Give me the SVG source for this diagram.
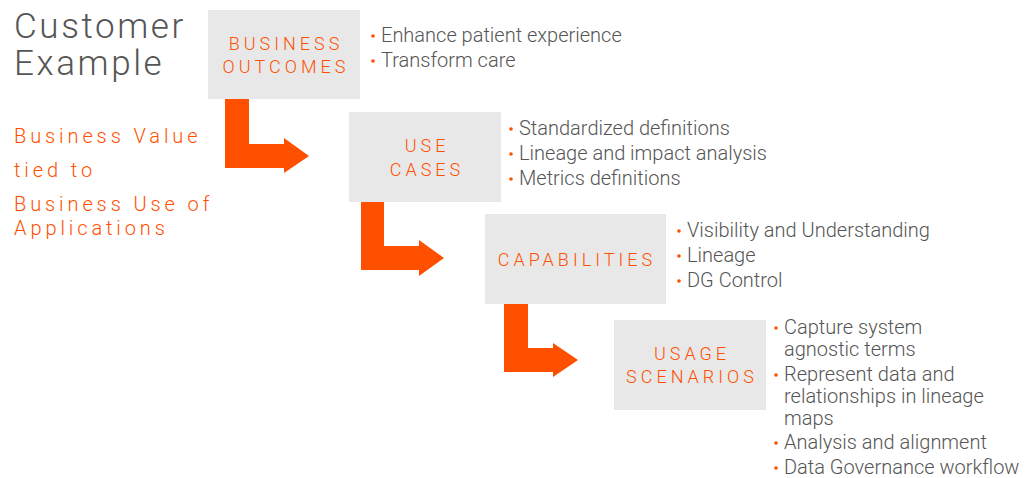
<svg xmlns="http://www.w3.org/2000/svg" width="1036" height="478" viewBox="0 0 1036 478">
<style>
text{font-family:Roboto,"Liberation Sans",sans-serif;font-weight:300}
.title{fill:#555;font-size:35px;letter-spacing:2.6px}
.side{fill:#FF5000;font-size:20px;letter-spacing:3.9px}
.box{fill:#E8E8E8}
.lbl{fill:#FF5000;font-size:18px;letter-spacing:4px;text-anchor:middle}
.b{fill:#555;font-size:20px}
.dot{fill:#FF5000}
.arr{fill:#FF5000}
</style>
<text class="title" x="14" y="38">Customer</text>
<text class="title" x="14" y="75">Example</text>
<g id="side-text">
<text class="side" x="14" y="143">Business Value</text>
<text class="side" x="14" y="177">tied to</text>
<text class="side" x="14" y="211">Business Use of</text>
<text class="side" x="14" y="235">Applications</text>
</g>
<g id="connectors">
<path class="arr" d="M225,99 H249 V144 H284 V138 L309,156 L284,173 V168 H225 Z"/>
<path class="arr" d="M361,202 H384 V246 H419 V240 L444,258 L419,276 V270 H361 Z"/>
<path class="arr" d="M504,304 H528 V348 H553 V343 L578,360 L553,377 V372 H504 Z"/>
</g>
<g id="business-outcomes">
<rect class="box" x="208" y="10" width="152" height="89"/>
<text class="lbl" x="286" y="50">BUSINESS</text>
<text class="lbl" x="286" y="73">OUTCOMES</text>
<circle class="dot" cx="373" cy="36" r="1.8"/>
<text class="b" x="381" y="42">Enhance patient experience</text>
<circle class="dot" cx="373" cy="61" r="1.8"/>
<text class="b" x="381" y="67">Transform care</text>
</g>
<g id="use-cases">
<rect class="box" x="349" y="112" width="152" height="90"/>
<text class="lbl" x="427" y="152">USE</text>
<text class="lbl" x="427" y="176">CASES</text>
<circle class="dot" cx="511" cy="129" r="1.8"/>
<text class="b" x="519" y="135">Standardized definitions</text>
<circle class="dot" cx="511" cy="154" r="1.8"/>
<text class="b" x="519" y="160">Lineage and impact analysis</text>
<circle class="dot" cx="511" cy="179" r="1.8"/>
<text class="b" x="519" y="185">Metrics definitions</text>
</g>
<g id="capabilities">
<rect class="box" x="485" y="214" width="181" height="90"/>
<text class="lbl" x="577" y="266">CAPABILITIES</text>
<circle class="dot" cx="679" cy="231" r="1.8"/>
<text class="b" x="687" y="237">Visibility and Understanding</text>
<circle class="dot" cx="679" cy="256" r="1.8"/>
<text class="b" x="687" y="262">Lineage</text>
<circle class="dot" cx="679" cy="281" r="1.8"/>
<text class="b" x="687" y="287">DG Control</text>
</g>
<g id="usage-scenarios">
<rect class="box" x="614" y="320" width="152" height="90"/>
<text class="lbl" x="692" y="360">USAGE</text>
<text class="lbl" x="692" y="383">SCENARIOS</text>
<circle class="dot" cx="776" cy="328" r="1.8"/>
<text class="b" x="784" y="334">Capture system</text>
<text class="b" x="784" y="356">agnostic terms</text>
<circle class="dot" cx="776" cy="375" r="1.8"/>
<text class="b" x="784" y="381">Represent data and</text>
<text class="b" x="784" y="403">relationships in lineage</text>
<text class="b" x="784" y="425">maps</text>
<circle class="dot" cx="776" cy="443" r="1.8"/>
<text class="b" x="784" y="449">Analysis and alignment</text>
<circle class="dot" cx="776" cy="468" r="1.8"/>
<text class="b" x="784" y="474">Data Governance workflow</text>
</g>
</svg>
